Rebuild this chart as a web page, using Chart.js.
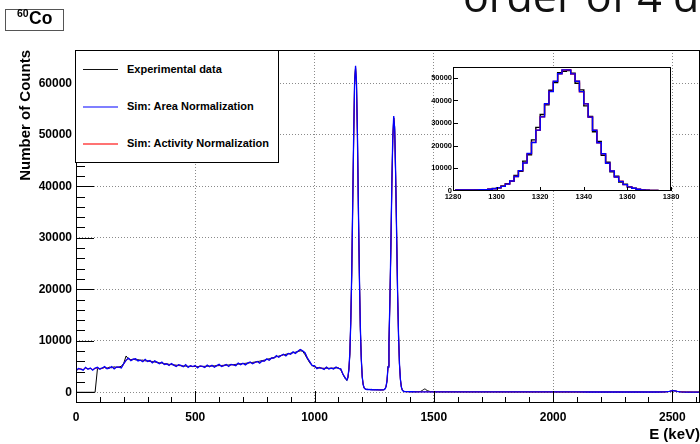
<!DOCTYPE html>
<html>
<head>
<meta charset="utf-8">
<script src="https://cdn.jsdelivr.net/npm/chart.js@4.4.1/dist/chart.umd.min.js"></script>
<style>
  html, body { margin: 0; padding: 0; background: #fff; overflow: hidden; }
  #wrap { position: relative; width: 700px; height: 444px; overflow: hidden; font-family: "Liberation Sans", Arial, sans-serif; }
  #main { position: absolute; left: 0; top: 0; }
  #inset { position: absolute; left: 420px; top: 58px; }
  #note { position: absolute; left: 463px; top: -26px; font-family: "Open Sans", sans-serif; font-size: 43px; line-height: 43px; color: #111; white-space: nowrap; }
  #title { position: absolute; left: 5px; top: 9px; width: 57px; height: 20px; border: 1px solid #555; background: #fff; font-weight: bold; }
  #title .iso { position: absolute; left: 11px; top: -2px; font-size: 10.5px; line-height: 10.5px; }
  #title .el { position: absolute; left: 23px; top: 0px; font-size: 17.5px; line-height: 17.5px; }
  #legend { position: absolute; left: 75px; top: 50px; width: 202px; height: 111px; border: 1px solid #000; background: #fff; }
  #legend .line { position: absolute; left: 7px; width: 35px; height: 2px; }
  #legend .lbl { position: absolute; left: 51px; font-size: 11px; line-height: 13px; font-weight: bold; color: #000; white-space: nowrap; }
</style>
</head>
<body>
<div id="wrap">
  <canvas id="main" width="700" height="444"></canvas>
  <div id="legend"></div>
  <canvas id="inset" width="280" height="148"></canvas>
  <div id="title"><span class="iso">60</span><span class="el">Co</span></div>
  <div id="note">order of 4 d</div>
</div>
<script>
// x positions helper (bin centres / sample energies)
function steps(from, to, step) {
  const out = [];
  for (let v = from; v <= to + 1e-9; v += step) out.push(v);
  return out;
}

// Sample energies (keV): continuum every 10 keV, photopeaks every 4 keV, sparse tail
const energyKeV = [
  ...steps(0, 1130, 10),
  ...steps(1136, 1400, 4),
  1410, 1430, 1445, 1452, 1458, 1462, 1466, 1472, 1485, 1510,
  1550, 1600, 1650, 1700, 1750, 1800, 1850, 1900, 1950, 2000,
  2050, 2100, 2150, 2200, 2250, 2300, 2330, 2360, 2400, 2440,
  2470, 2488, 2496, 2504, 2512, 2520, 2535, 2560, 2590, 2615
];

const seriesNames = ["Experimental data", "Sim: Area Normalization", "Sim: Activity Normalization"];

const expCounts = [
  // 0 - 1130 keV
  0, 0, 0, 0, 0, 0, 0, 0, 0, 4580,
  4620, 4700, 4810, 4650, 4880, 4760, 4940, 4820, 4900, 5050,
  5600, 7050, 6450, 6350, 6420, 6300, 6330, 6210, 6250, 6100,
  6120, 6000, 5990, 5880, 5850, 5720, 5690, 5560, 5520, 5430,
  5380, 5300, 5270, 5190, 5160, 5100, 5080, 5040, 5030, 5000,
  5010, 5000, 5020, 5030, 5040, 5060, 5090, 5110, 5130, 5160,
  5180, 5210, 5240, 5270, 5300, 5340, 5380, 5420, 5470, 5520,
  5570, 5620, 5680, 5740, 5800, 5870, 5950, 6040, 6140, 6250,
  6380, 6500, 6640, 6770, 6900, 7020, 7150, 7270, 7380, 7480,
  7580, 7680, 7790, 7900, 8050, 8000, 7300, 6500, 5700, 5200,
  4950, 4800, 4720, 4680, 4660, 4650, 4660, 4670, 4700, 4730,
  4760, 4350, 3400, 2550,
  // 1136 - 1400 keV
  2300, 2800, 4300, 7200, 14100, 22800, 36800, 48900, 60700, 63000,
  59400, 50200, 34900, 23100, 12300, 6700, 2900, 1500, 820, 640,
  590, 560, 550, 540, 530, 520, 510, 505, 500, 495,
  490, 485, 480, 475, 470, 470, 465, 470, 480, 530,
  700, 1200, 2200, 5100, 9500, 18300, 27800, 40500, 48900, 53300,
  51500, 42000, 31600, 19600, 11600, 5400, 2600, 980, 470, 230,
  160, 140, 130, 120, 120, 115, 110,
  // tail
  110, 100, 170, 360, 560, 640, 560, 330, 130, 95,
  88, 84, 82, 80, 78, 76, 74, 72, 70, 68,
  66, 64, 62, 60, 58, 57, 56, 55, 55, 60,
  85, 170, 270, 320, 270, 170, 85, 52, 46, 44
];

const areaCounts = [
  4150, 4620, 4490, 4290, 4850, 4470, 4700, 4290, 4690, 4850,
  4470, 4710, 4980, 4580, 4710, 4980, 4550, 4910, 4870, 4710,
  5560, 6200, 6630, 6130, 6420, 6510, 6090, 6230, 5930, 6390,
  5990, 6150, 5710, 6100, 5810, 5530, 5860, 5390, 5530, 5200,
  5580, 5270, 5000, 5370, 5210, 4960, 5380, 4840, 5150, 4980,
  5200, 4740, 5130, 5040, 4820, 5300, 4960, 5260, 4870, 5170,
  5420, 5000, 5180, 5410, 5010, 5420, 5340, 5160, 5680, 5370,
  5650, 5330, 5660, 5890, 5530, 5780, 6000, 5640, 6090, 6060,
  6480, 6220, 6660, 6630, 7110, 6790, 7150, 7380, 7060, 7540,
  7400, 7850, 7560, 7970, 8320, 8050, 7700, 6620, 5960, 5180,
  5180, 4570, 4840, 4670, 4450, 4910, 4540, 4700, 4530, 4910,
  4660, 4550, 3420, 2710,
  2400, 3000, 4500, 7650, 13700, 23400, 36100, 49600, 60150, 63400,
  60050, 49300, 35550, 22570, 12720, 6410, 3020, 1470, 850, 650,
  560, 540, 580, 520, 560, 500, 540, 490, 530, 480,
  520, 470, 500, 460, 480, 450, 470, 480, 470, 520,
  680, 1130, 2300, 4900, 9800, 17700, 28350, 39950, 49450, 53650,
  51050, 42580, 31150, 19990, 11280, 5620, 2500, 1030, 430, 215,
  150, 130, 120, 120, 110, 110, 105,
  100, 95, 95, 95, 95, 95, 95, 90, 90, 90,
  85, 85, 80, 80, 80, 75, 75, 70, 70, 70,
  65, 65, 60, 60, 60, 55, 55, 55, 55, 60,
  80, 160, 260, 300, 260, 160, 80, 50, 45, 45
];

const activityCounts = [
  4300, 4480, 4560, 4400, 4700, 4560, 4620, 4430, 4600, 4750,
  4560, 4640, 4850, 4650, 4720, 4900, 4640, 4850, 4860, 4800,
  5450, 6260, 6540, 6220, 6380, 6440, 6160, 6200, 6010, 6300,
  6020, 6080, 5800, 6020, 5800, 5600, 5780, 5450, 5500, 5280,
  5500, 5290, 5100, 5300, 5180, 5020, 5300, 4900, 5120, 5000,
  5130, 4820, 5080, 5020, 4890, 5230, 5000, 5200, 4950, 5140,
  5340, 5060, 5190, 5350, 5070, 5380, 5320, 5210, 5600, 5410,
  5600, 5400, 5640, 5820, 5600, 5780, 5950, 5720, 6060, 6080,
  6420, 6280, 6620, 6660, 7040, 6850, 7130, 7320, 7120, 7480,
  7430, 7780, 7600, 7930, 8260, 8080, 7650, 6680, 5920, 5230,
  5120, 4640, 4800, 4680, 4520, 4850, 4580, 4690, 4570, 4860,
  4690, 4500, 3460, 2680,
  2380, 2950, 4450, 7550, 13500, 23200, 35800, 49200, 59800, 63100,
  59700, 49000, 35300, 22400, 12600, 6350, 3000, 1450, 840, 640,
  555, 535, 570, 515, 550, 495, 535, 485, 525, 478,
  515, 468, 495, 458, 478, 448, 466, 476, 468, 515,
  672, 1120, 2280, 4860, 9720, 17560, 28130, 39650, 49080, 53250,
  50670, 42260, 30920, 19840, 11200, 5580, 2480, 1020, 428, 214,
  149, 129, 119, 119, 109, 109, 104,
  102, 96, 94, 96, 94, 96, 94, 91, 89, 91,
  84, 86, 79, 81, 79, 76, 74, 71, 69, 71,
  64, 66, 59, 61, 59, 56, 54, 56, 54, 61,
  79, 158, 255, 296, 258, 158, 79, 51, 44, 46
];

// Zoom on the 1332 keV line, 2 keV bins (centres)
const insetBins = steps(1281, 1379, 2);
const insetExp = [
  420, 480, 430, 470, 440, 520, 560, 580, 790, 1150,
  1380, 2200, 3250, 4300, 6900, 8700, 13200, 16000, 22600, 28100,
  33800, 38100, 44500, 47900, 52300, 52900, 53200, 52100, 47600, 44700,
  37600, 32900, 26200, 21900, 15800, 12700, 8500, 6500, 4000, 2950,
  1700, 1250, 720, 540, 330, 270, 190, 180, 150, 140
];
const insetArea = [
  460, 455, 456, 457, 466, 486, 529, 611, 758, 1008,
  1420, 2060, 3030, 4430, 6390, 9020, 12390, 16550, 21440, 26920,
  32750, 38560, 43960, 48500, 51790, 53520, 53510, 51770, 48470, 43910,
  38490, 32670, 26830, 21330, 16430, 12250, 8870, 6220, 4250, 2830,
  1840, 1190, 770, 510, 350, 260, 206, 176, 162, 156
];
const insetActivity = [
  455, 450, 458, 452, 470, 480, 535, 605, 765, 995,
  1430, 2040, 3050, 4400, 6420, 8990, 12430, 16500, 21500, 26880,
  32800, 38500, 44020, 48440, 51850, 53450, 53560, 51700, 48520, 43850,
  38540, 32610, 26880, 21280, 16480, 12200, 8900, 6180, 4280, 2800,
  1860, 1180, 775, 505, 355, 255, 208, 172, 165, 152
];

// Axis tick labels
const xTicks = [0, 500, 1000, 1500, 2000, 2500];
const yTicks = [0, 10000, 20000, 30000, 40000, 50000, 60000];
const insetXTicks = [1280, 1300, 1320, 1340, 1360, 1380];
const insetYTicks = [0, 10000, 20000, 30000, 40000, 50000];

const colors = ["#000000", "#0000ff", "#ff0000"];
const legendColors = ["#111111", "rgba(0,0,255,0.5)", "rgba(255,0,0,0.55)"];
const FONT = '"Liberation Sans", Arial, sans-serif';
Chart.defaults.font.family = FONT;
Chart.defaults.color = "#000";

function pairs(xs, ys) {
  return xs.map((x, i) => ({ x: x, y: ys[i] }));
}

// ROOT-style frame with inward major/minor ticks
const frameTicks = {
  id: "frameTicks",
  beforeDraw(chart, args, opts) {
    if (!opts.fill) return;
    const a = chart.chartArea;
    chart.ctx.save();
    chart.ctx.fillStyle = opts.fill;
    chart.ctx.fillRect(a.left, a.top, a.right - a.left, a.bottom - a.top);
    chart.ctx.restore();
  },
  afterDraw(chart, args, opts) {
    const { ctx, chartArea: a, scales } = chart;
    const x = scales.x, y = scales.y;
    ctx.save();
    ctx.strokeStyle = "#000";
    ctx.lineWidth = 1;
    ctx.beginPath();
    for (let v = opts.yFrom; v <= y.max; v += opts.yStep) {
      const py = Math.round(y.getPixelForValue(v)) + 0.5;
      if (py < a.top || py > a.bottom) continue;
      const len = v % opts.yMajor === 0 ? opts.yLong : opts.yShort;
      ctx.moveTo(a.left, py);
      ctx.lineTo(a.left + len, py);
    }
    for (let v = opts.xFrom; v <= x.max; v += opts.xStep) {
      const px = Math.round(x.getPixelForValue(v)) + 0.5;
      const len = (v - opts.xFrom) % opts.xMajor === 0 ? opts.xLong : opts.xShort;
      ctx.moveTo(px, a.bottom);
      ctx.lineTo(px, a.bottom - len);
    }
    ctx.stroke();
    ctx.strokeRect(a.left + 0.5, a.top + 0.5, a.right - a.left - 1, a.bottom - a.top - 1);
    ctx.restore();
  }
};

const boldTick = (size) => ({ family: FONT, size: size, weight: "bold" });

// Full spectrum
new Chart(document.getElementById("main"), {
  type: "line",
  data: {
    datasets: [
      { label: seriesNames[0], data: pairs(energyKeV, expCounts), borderColor: colors[0], order: 2 },
      { label: seriesNames[1], data: pairs(energyKeV, areaCounts), borderColor: colors[1], borderWidth: 1.3, order: 0 },
      { label: seriesNames[2], data: pairs(energyKeV, activityCounts), borderColor: colors[2], order: 1 }
    ]
  },
  options: {
    responsive: false,
    animation: false,
    devicePixelRatio: 1,
    layout: { padding: { top: 50, right: 0, left: 0, bottom: 0 } },
    elements: { line: { borderWidth: 1, tension: 0, fill: false }, point: { radius: 0 } },
    plugins: {
      legend: { display: false },
      tooltip: { enabled: false },
      frameTicks: { yFrom: -2000, yStep: 2000, yMajor: 10000, yLong: 18, yShort: 9,
                    xFrom: 0, xStep: 100, xMajor: 500, xLong: 12, xShort: 6 }
    },
    scales: {
      x: {
        type: "linear", min: 0, max: 2616,
        afterBuildTicks: (s) => { s.ticks = xTicks.map((v) => ({ value: v })); },
        afterFit: (s) => { s.height = 41; },
        grid: { color: "#8a8a8a", lineWidth: 1, drawTicks: false },
        border: { display: false, dash: [1, 2] },
        ticks: { font: boldTick(12), padding: 7, maxRotation: 0, autoSkip: false, callback: (v) => String(v) },
        title: { display: true, text: "E (keV)", align: "end", font: boldTick(15), padding: { top: 0, bottom: 0 } }
      },
      y: {
        type: "linear", min: -2080, max: 66460,
        afterBuildTicks: (s) => { s.ticks = yTicks.map((v) => ({ value: v })); },
        afterFit: (s) => { s.width = 76; },
        grid: { color: "#8a8a8a", lineWidth: 1, drawTicks: false },
        border: { display: false, dash: [1, 2] },
        ticks: { font: boldTick(12), padding: 4, autoSkip: false, callback: (v) => String(v) },
        title: { display: true, text: "Number of Counts", align: "end", font: boldTick(15), padding: { top: 17, bottom: 0 } }
      }
    }
  },
  plugins: [frameTicks]
});

// Inset: 1332 keV peak
new Chart(document.getElementById("inset"), {
  type: "line",
  data: {
    datasets: [
      { label: seriesNames[0], data: pairs(insetBins, insetExp), borderColor: colors[0], order: 2 },
      { label: seriesNames[1], data: pairs(insetBins, insetArea), borderColor: colors[1], order: 0 },
      { label: seriesNames[2], data: pairs(insetBins, insetActivity), borderColor: colors[2], order: 1 }
    ]
  },
  options: {
    responsive: false,
    animation: false,
    devicePixelRatio: 1,
    layout: { padding: { top: 9, right: 29, left: 0, bottom: 0 } },
    elements: { line: { borderWidth: 1.4, tension: 0, fill: false, stepped: "middle" }, point: { radius: 0 } },
    plugins: {
      legend: { display: false },
      tooltip: { enabled: false },
      frameTicks: { fill: "#fff", yFrom: 0, yStep: 10000, yMajor: 10000, yLong: 5, yShort: 5,
                    xFrom: 1280, xStep: 20, xMajor: 20, xLong: 4, xShort: 4 }
    },
    scales: {
      x: {
        type: "linear", min: 1280, max: 1380,
        afterBuildTicks: (s) => { s.ticks = insetXTicks.map((v) => ({ value: v })); },
        afterFit: (s) => { s.height = 15; },
        grid: { display: false, drawTicks: false },
        border: { display: false },
        ticks: { font: boldTick(7.5), padding: 1, maxRotation: 0, autoSkip: false, callback: (v) => String(v) }
      },
      y: {
        type: "linear", min: 0, max: 54800,
        afterBuildTicks: (s) => { s.ticks = insetYTicks.map((v) => ({ value: v })); },
        afterFit: (s) => { s.width = 33; },
        grid: { display: false, drawTicks: false },
        border: { display: false },
        ticks: { font: boldTick(7.5), padding: 1, autoSkip: false, callback: (v) => String(v) }
      }
    }
  },
  plugins: [frameTicks]
});

// Legend box
const legendBox = document.getElementById("legend");
const rowCentres = [18, 55.5, 92];
seriesNames.forEach((name, i) => {
  const line = document.createElement("div");
  line.className = "line";
  line.style.top = Math.round(rowCentres[i] - 0.5) + "px";
  line.style.height = i === 0 ? "1px" : "2px";
  line.style.background = legendColors[i];
  legendBox.appendChild(line);
  const lbl = document.createElement("div");
  lbl.className = "lbl";
  lbl.style.top = (rowCentres[i] - 6.5) + "px";
  lbl.textContent = name;
  legendBox.appendChild(lbl);
});
</script>
</body>
</html>
